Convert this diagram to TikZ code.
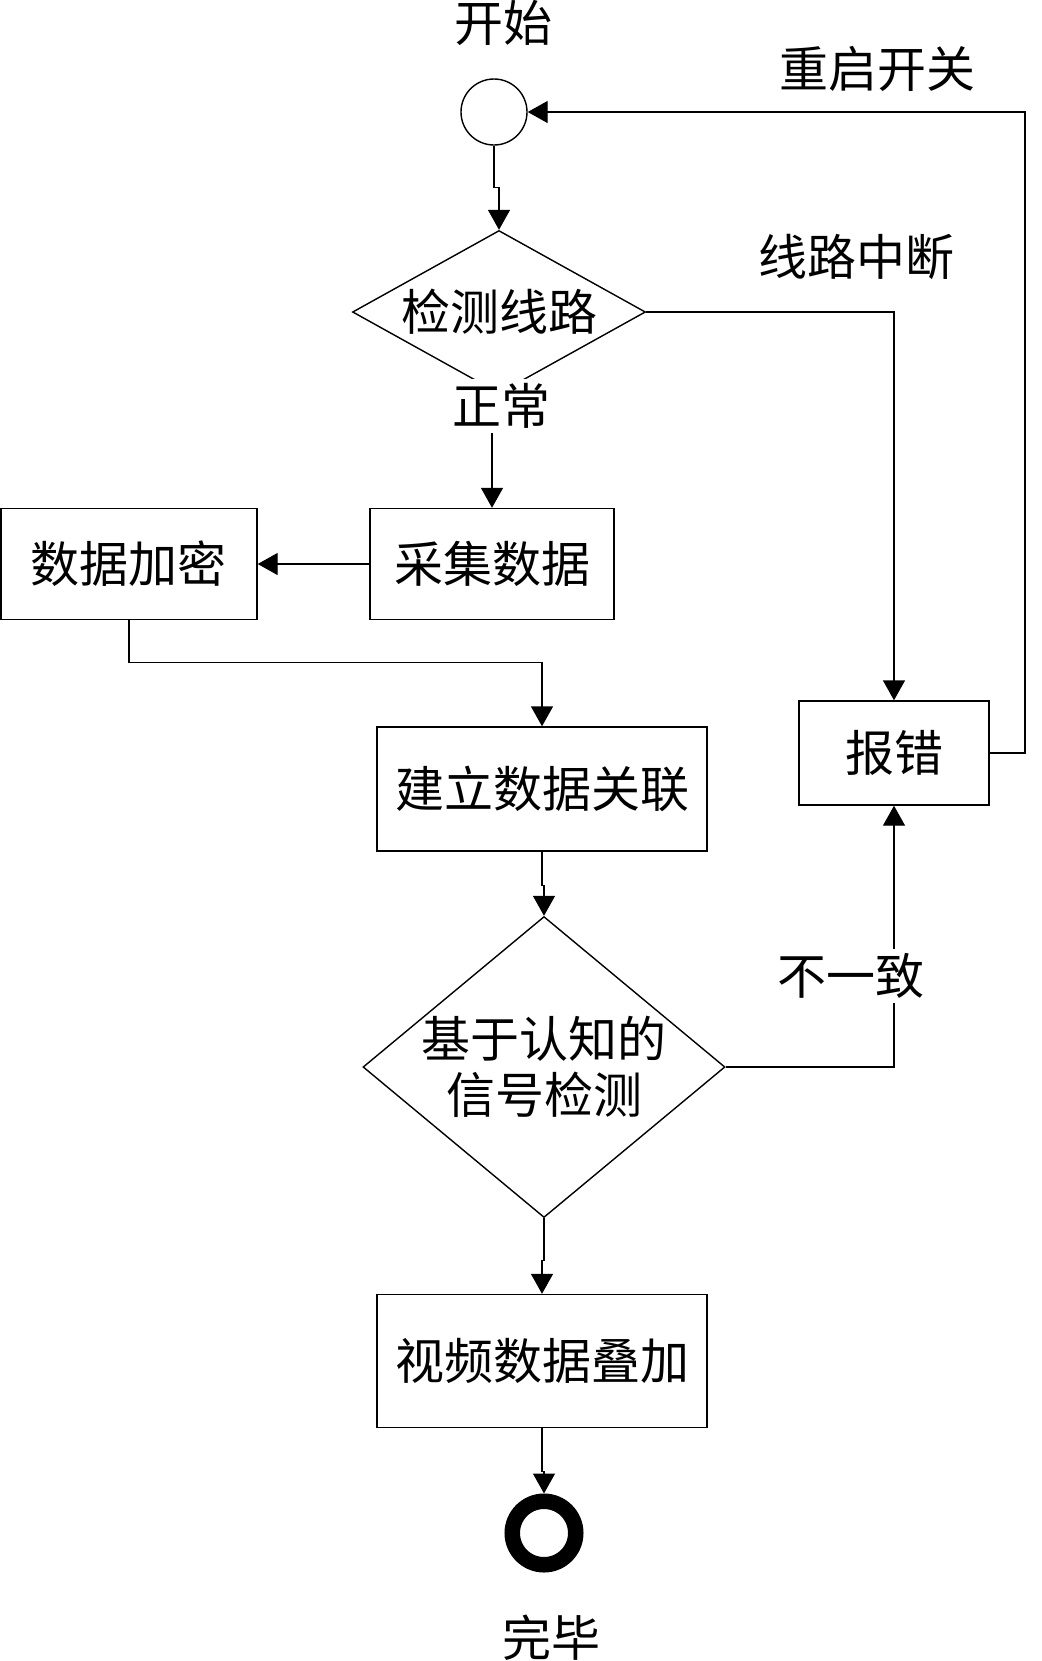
\documentclass[tikz,border=0pt]{standalone}
\usepackage{fontspec}
\newfontfamily\cjk{Noto Sans CJK SC}
\usetikzlibrary{shapes.geometric,arrows.meta}

\begin{document}
\begin{tikzpicture}[x=0.5pt, y=-0.5pt, line width=0.7pt,
  every node/.style={font=\cjk\fontsize{24.5}{30}\selectfont},
  box/.style={draw, rectangle, inner sep=0pt},
  decision/.style={draw, diamond, inner sep=0pt, aspect=1.8},
  arr/.style={-{Triangle[width=11pt,length=10pt]}},
  lbl/.style={fill=white, inner sep=2pt}]

 \useasboundingbox (0,0) rectangle (1042,1661);

 \node (startlbl) at (503,23) {开始};
 \node[draw, circle, inner sep=0pt, minimum size=33pt] (start) at (494,112) {};

 \node[decision, minimum width=146.5pt, minimum height=81.5pt] (detect) at (499,312) {检测线路};
 \node[box, minimum width=122pt, minimum height=55.5pt] (collect) at (492,564) {采集数据};
 \node[box, minimum width=128pt, minimum height=55.5pt] (encrypt) at (129,564) {数据加密};
 \node[box, minimum width=165pt, minimum height=62pt] (assoc) at (542,789) {建立数据关联};
 \node[decision, minimum width=181pt, minimum height=150.5pt, align=center] (cogn) at (544,1067)
   {\makebox[0pt]{基于认知的}\\[-2pt]\makebox[0pt]{信号检测}};
 \node[box, minimum width=95pt, minimum height=52pt] (error) at (894,753) {报错};
 \node[box, minimum width=165pt, minimum height=66.5pt] (video) at (542,1361) {视频数据叠加};
 \node[draw, circle, inner sep=0pt, minimum size=31.75pt, line width=7.75pt] (finish) at (544,1533) {};
 \node (finishlbl) at (551,1638) {完毕};

 \coordinate (back) at (1025,112);

 % main flow
 \draw[arr] (start.south) -- ++(0,42) -| (detect.north);
 \draw[arr] (detect.south) -- ++(0,14) -| (collect.north);
 \draw[arr] (collect.west) -- (encrypt.east);
 \draw[arr] (encrypt.south) -- ++(0,42) -| (assoc.north);
 \draw[arr] (assoc.south) -- ++(0,34) -| (cogn.north);
 \draw[arr] (cogn.south) -- ++(0,42) -| (video.north);
 \draw[arr] (video.south) -- ++(0,43) -| (finish.north);

 % error branches
 \draw[arr] (detect.east) -| (error.north);
 \draw[arr] (cogn.east) -| (error.south);
 \draw[arr] (error.east) -| (back) -- (start.east);

 \node[lbl] (ok) at (501,406) {正常};
 \node[lbl] (mismatch) at (851,976) {不一致};
 \node (broken) at (856,257) {线路中断};
 \node (restart) at (877,69) {重启开关};
\end{tikzpicture}
\end{document}
